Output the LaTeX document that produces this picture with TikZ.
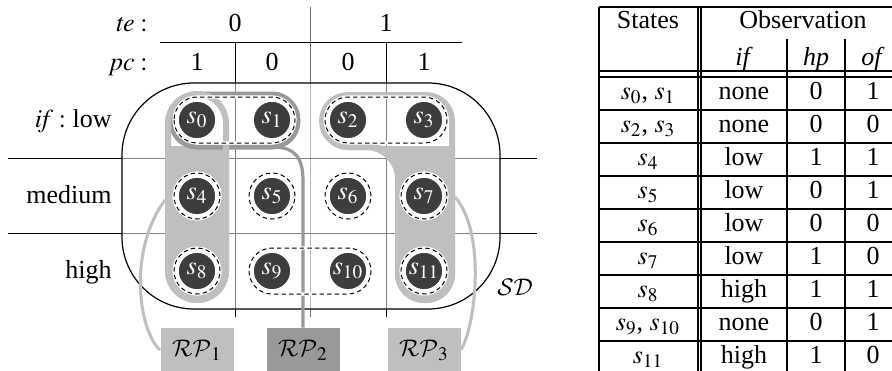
\documentclass[tikz,border=0pt]{standalone}
\usepackage{mathptmx}
\DeclareMathAlphabet{\mathcal}{OMS}{cmsy}{m}{n}
\usepackage[no-math]{fontspec}
\setmainfont{Liberation Serif}
\definecolor{rpl}{gray}{0.75}
\definecolor{rpd}{gray}{0.6}
\definecolor{nodefill}{gray}{0.24}
\tikzset{
  lbl/.style={inner sep=0pt, text height=8.5pt, text depth=2.5pt},
  gridline/.style={line width=0.5pt},
  tabline/.style={line width=0.6pt},
  state/.style={circle, fill=nodefill, draw=white, line width=0.8pt, minimum size=19pt, inner sep=0pt, text=white},
  obs/.style={draw=black, line width=0.5pt, dash pattern=on 2.2pt off 1.6pt, preaction={draw=white, line width=1.6pt, solid}},
  rpbox/.style={minimum width=36.5pt, minimum height=22pt, inner sep=0pt},
  rpline/.style={rpl, line width=1.5pt},
}
\begin{document}
\begin{tikzpicture}[x=0.5pt, y=-0.5pt, font=\fontsize{13}{15.6}\selectfont]
\path[use as bounding box] (0,0) rectangle (892,370);
\clip (0,0) rectangle (892,370);

% header labels of the grid
\node[lbl, anchor=east] (te) at (148,25) {$\mathit{te}:$};
\node[lbl, anchor=east] (pc) at (148,64) {$\mathit{pc}:$};
\node[lbl] (te0) at (235,25) {0};
\node[lbl] (te1) at (386,25) {1};
\node[lbl] (pc1a) at (197,64) {1};
\node[lbl] (pc0a) at (272,64) {0};
\node[lbl] (pc0b) at (348,64) {0};
\node[lbl] (pc1b) at (424,64) {1};
\node[lbl, anchor=east] (rlow) at (112,121) {$\mathit{if}:$ low};
\node[lbl, anchor=east] (rmed) at (112,197) {medium};
\node[lbl, anchor=east] (rhigh) at (112,272) {high};

% grid lines
\draw[gridline] (160,42) -- (462,42);
\draw[gridline] (235,42) -- (235,317);
\draw[gridline] (386,42) -- (386,317);
\draw[gridline, black!55] (310,7) -- (310,317);
\draw[gridline] (8,158) -- (537,158);
\draw[gridline] (8,233) -- (537,233);

% SD region
\draw[line width=0.6pt, fill=white, fill opacity=0.5, rounded corners=36pt] (122,83) rectangle (500,309);
\node (SD) at (515,287) {$\mathcal{SD}$};

% RP regions: filled lower parts
\begin{scope}
  \clip (0,146) rectangle (892,370);
  \fill[rpl, rounded corners=16pt] (165,91) rectangle (229,303);
  \fill[rpl, rounded corners=14.5pt] (380,92) -- (455,92) -- (455,303) -- (395,303) -- (395,150) -- (319,150) -- (319,92) -- cycle;
\end{scope}
% RP2 outline
\draw[rpd, line width=2.5pt, rounded corners=13pt] (171,94) rectangle (298,147);
% RP1 / RP3 outlines
\draw[rpl, line width=3pt, rounded corners=14.5pt] (168,94) rectangle (226,300);
\draw[rpl, line width=3pt, rounded corners=13pt] (380,95) -- (452,95) -- (452,300) -- (398,300) -- (398,147) -- (322,147) -- (322,95) -- cycle;

% RP boxes
\node[rpbox, fill=rpl] (RP1) at (197,350) {$\mathcal{RP}_1$};
\node[rpbox, fill=rpd] (RP2) at (303,350) {$\mathcal{RP}_2$};
\node[rpbox, fill=rpl] (RP3) at (424,350) {$\mathcal{RP}_3$};

\coordinate (rp1end) at (165,200);
\coordinate (rp2end) at (272,147);
\coordinate (rp3end) at (455,197);

\draw[rpd, line width=1.6pt] (RP2.north) -- (303,182) .. controls (303,158) and (296,147) .. (rp2end);
\draw[rpline] (RP1.west) .. controls (138,330) and (128,250) .. (rp1end);
\draw[rpline] (RP3.east) .. controls (476,325) and (486,232) .. (rp3end);

% observation classes
\draw[obs, rounded corners=11.5pt] (174,97) rectangle (295,143);
\draw[obs, rounded corners=11.5pt] (325,97) rectangle (447,143);
\draw[obs, rounded corners=11.5pt] (249,248) rectangle (371,294);
\foreach \x/\y in {197/196, 272/196, 348/196, 424/196, 197/271, 424/271}
  \draw[obs, preaction={fill=white}] (\x,\y) circle (11.5pt);

% states
\foreach \n/\x/\y in {0/197/120, 1/272/120, 2/348/120, 3/424/120,
                      4/197/196, 5/272/196, 6/348/196, 7/424/196,
                      8/197/271, 9/272/271, 10/348/271, 11/424/271}
  \node[state] (s\n) at (\x,\y) {$s_{\n}$};

% table
\foreach \yy in {7,71,77,110,143,176,209,242,275,308,341,374}
  \draw[tabline] (599,\yy) -- (903,\yy);
\foreach \xx in {599,698,701}
  \draw[tabline] (\xx,7) -- (\xx,374);
\foreach \xx in {787,845}
  \draw[tabline] (\xx,39) -- (\xx,374);

\node[lbl] (hStates) at (648,22) {States};
\node[lbl] (hObs) at (803,22) {Observation};
\node[lbl] (hif) at (744,59) {\textit{if}};
\node[lbl] (hhp) at (816,59) {\textit{hp}};
\node[lbl] (hof) at (873,59) {\textit{of}};

\foreach \st/\i/\h/\o [count=\k from 0] in {
  {$s_0$, $s_1$}/none/0/1, {$s_2$, $s_3$}/none/0/0, {$s_4$}/low/1/1,
  {$s_5$}/low/0/1, {$s_6$}/low/0/0, {$s_7$}/low/1/0,
  {$s_8$}/high/1/1, {$s_9$, $s_{10}$}/none/0/1, {$s_{11}$}/high/1/0}
{
  \node[lbl] (tS\k) at (648,{93.5+33*\k}) {\st};
  \node[lbl] (tI\k) at (744,{93.5+33*\k}) {\i};
  \node[lbl] (tH\k) at (816,{93.5+33*\k}) {\h};
  \node[lbl] (tO\k) at (873,{93.5+33*\k}) {\o};
}
\end{tikzpicture}
\end{document}
